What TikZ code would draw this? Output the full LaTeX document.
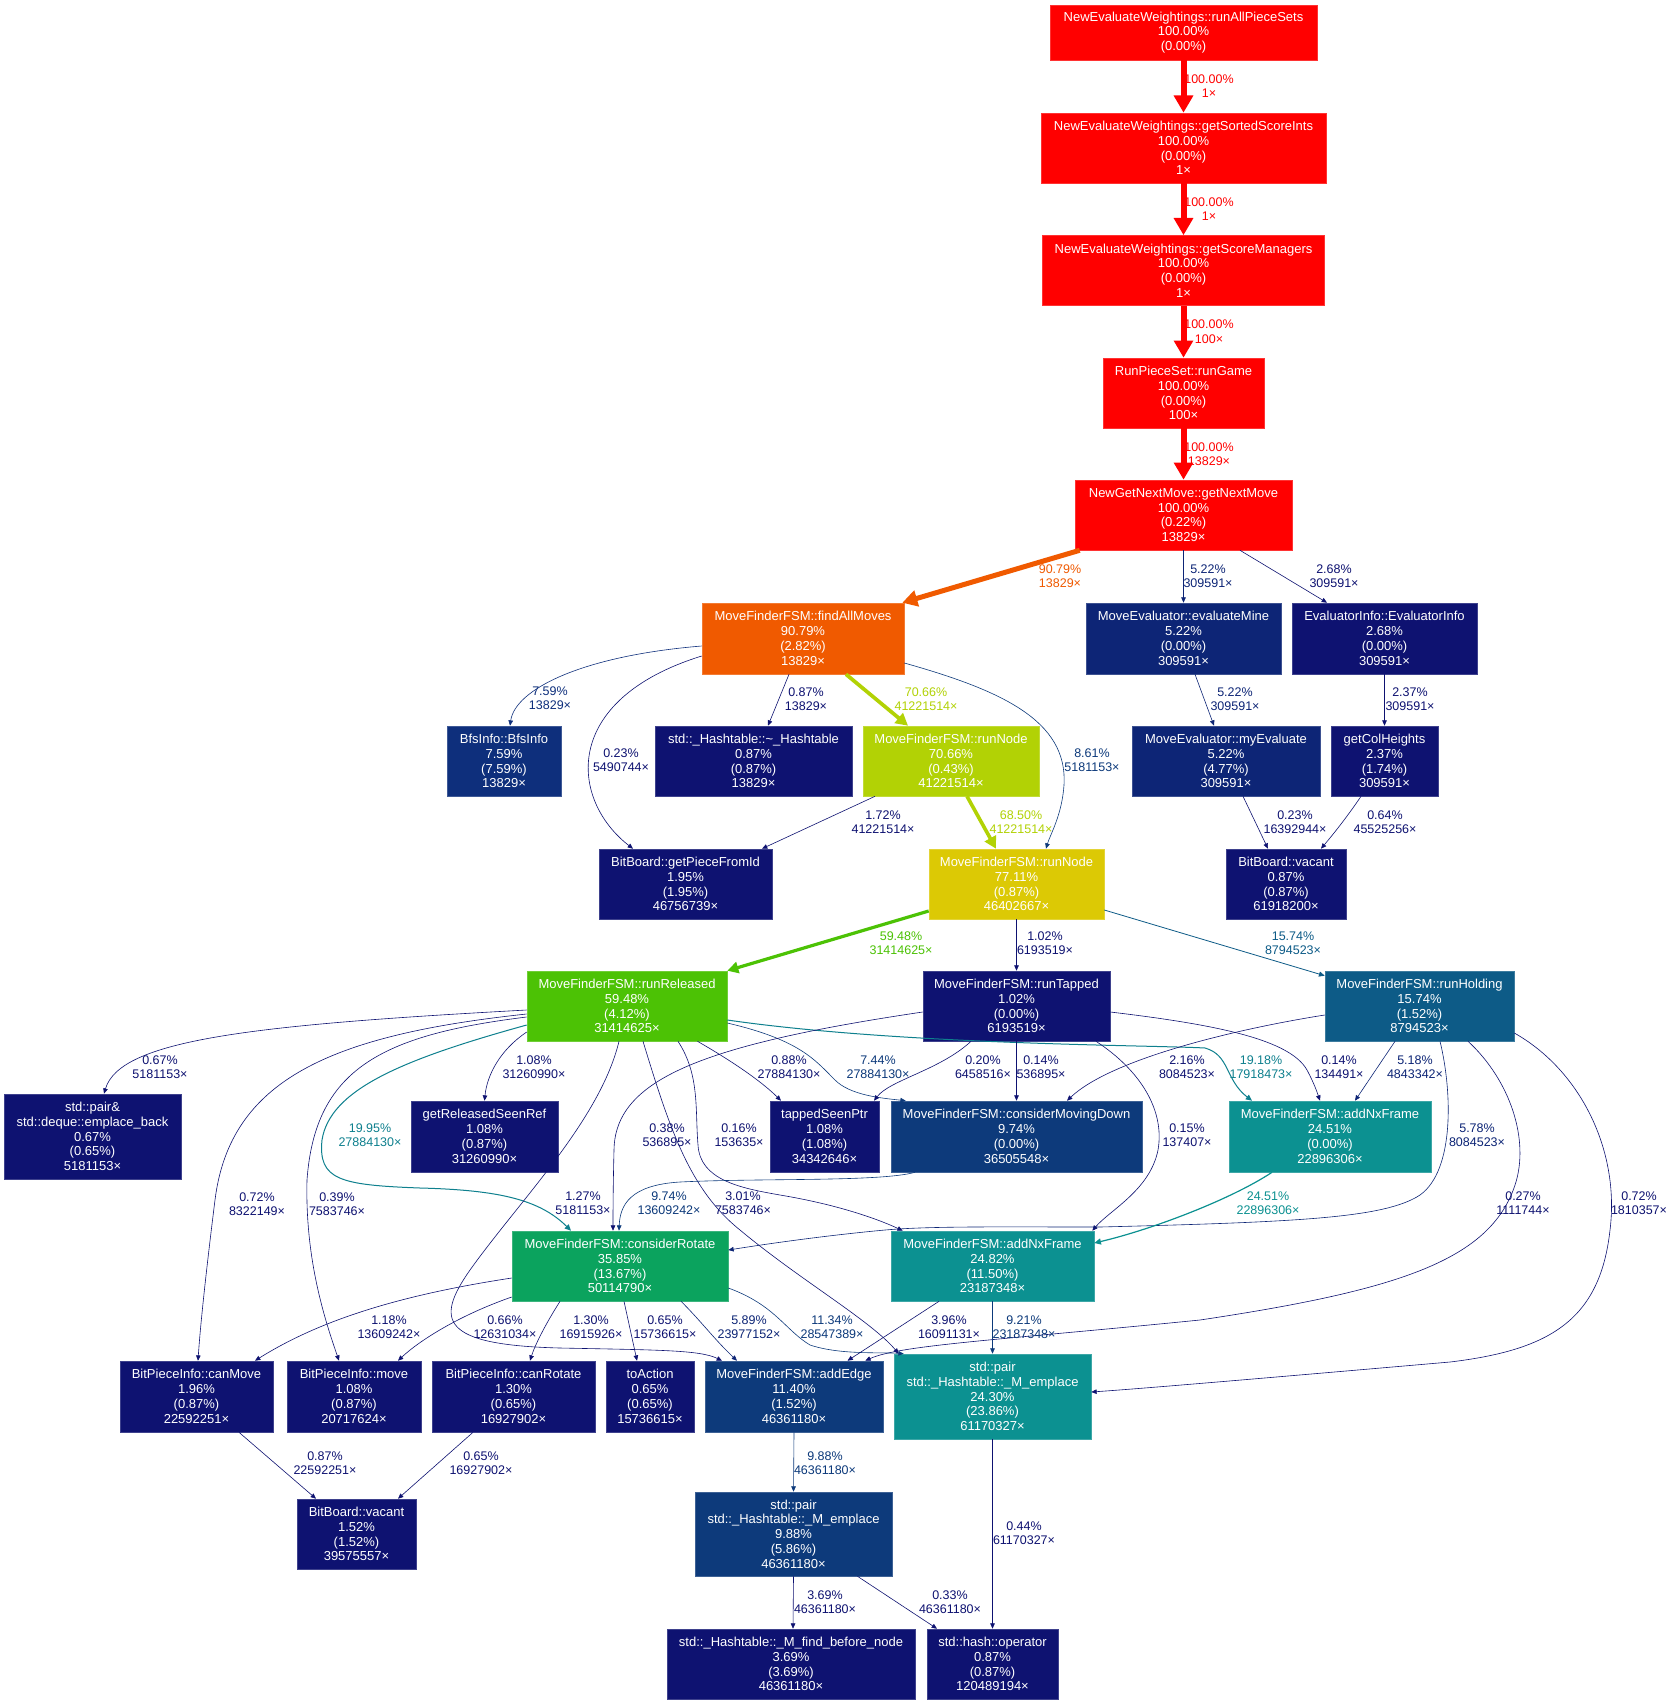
\documentclass[tikz,border=0pt]{standalone}
\usepackage{fontspec}
\setmainfont{Liberation Sans}
\usetikzlibrary{arrows.meta}

\definecolor{cRed}{RGB}{255,0,0}
\definecolor{cOrange}{RGB}{240,90,0}
\definecolor{cLime}{RGB}{178,210,5}
\definecolor{cYellow}{RGB}{220,201,5}
\definecolor{cGreen}{RGB}{76,194,5}
\definecolor{cSea}{RGB}{11,163,94}
\definecolor{cTeal}{RGB}{12,145,145}
\definecolor{cTealD}{RGB}{14,128,142}
\definecolor{cSteel}{RGB}{13,91,135}
\definecolor{cBlue}{RGB}{13,58,123}
\definecolor{cBfs}{RGB}{14,47,124}
\definecolor{cMid}{RGB}{13,37,118}
\definecolor{cNavy}{RGB}{14,18,113}

\newcommand{\callfont}{\fontsize{13}{14.8}\selectfont}
\newcommand{\pctfont}{\fontsize{12.5}{14.4}\selectfont}

\begin{document}
\begin{tikzpicture}[x=1pt, y=-1pt,
    func/.style={fill=#1, draw=#1!80!white, line width=0.6pt, text=white, align=center, inner sep=0pt, font=\callfont},
    call/.style={draw=#1, line width=0.6pt, -{Triangle[length=4pt 2.2, width=3pt 2.6]}},
    pct/.style={text=#1, align=center, inner sep=0pt, font=\pctfont}]
\fill[white] (0,0) rectangle (1674,1704);
\useasboundingbox (0,0) rectangle (1674,1704);

% top chain
\node[func=cRed, minimum width=267pt, minimum height=55pt] (run_all) at (1183.5,32.5) {NewEvaluateWeightings::runAllPieceSets\\100.00\%\\(0.00\%)};
\node[func=cRed, minimum width=285pt, minimum height=70pt] (get_sorted) at (1183.5,148) {NewEvaluateWeightings::getSortedScoreInts\\100.00\%\\(0.00\%)\\1×};
\node[func=cRed, minimum width=282pt, minimum height=70pt] (get_managers) at (1183.5,270.5) {NewEvaluateWeightings::getScoreManagers\\100.00\%\\(0.00\%)\\1×};
\node[func=cRed, minimum width=161pt, minimum height=70pt] (run_game) at (1183.5,393) {RunPieceSet::runGame\\100.00\%\\(0.00\%)\\100×};
\node[func=cRed, minimum width=217pt, minimum height=70pt] (next_move) at (1183.5,515) {NewGetNextMove::getNextMove\\100.00\%\\(0.22\%)\\13829×};

% second and third rows
\node[func=cOrange, minimum width=202pt, minimum height=71pt] (find_all) at (803,638.5) {MoveFinderFSM::findAllMoves\\90.79\%\\(2.82\%)\\13829×};
\node[func=cMid, minimum width=195pt, minimum height=71pt] (eval_mine) at (1183.5,638.5) {MoveEvaluator::evaluateMine\\5.22\%\\(0.00\%)\\309591×};
\node[func=cNavy, minimum width=185pt, minimum height=71pt] (eval_info) at (1384.5,638.5) {EvaluatorInfo::EvaluatorInfo\\2.68\%\\(0.00\%)\\309591×};
\node[func=cBfs, minimum width=114pt, minimum height=70pt] (bfs_info) at (504,761) {BfsInfo::BfsInfo\\7.59\%\\(7.59\%)\\13829×};
\node[func=cNavy, minimum width=197pt, minimum height=70pt] (hash_dtor) at (753.5,761) {std::\_Hashtable::\textasciitilde\_Hashtable\\0.87\%\\(0.87\%)\\13829×};
\node[func=cLime, minimum width=176pt, minimum height=70pt] (run_node_a) at (951,761) {MoveFinderFSM::runNode\\70.66\%\\(0.43\%)\\41221514×};
\node[func=cMid, minimum width=188pt, minimum height=70pt] (my_eval) at (1226,761) {MoveEvaluator::myEvaluate\\5.22\%\\(4.77\%)\\309591×};
\node[func=cNavy, minimum width=107pt, minimum height=70pt] (col_heights) at (1384.5,761) {getColHeights\\2.37\%\\(1.74\%)\\309591×};

% runNode level
\node[func=cNavy, minimum width=173pt, minimum height=70pt] (piece_from_id) at (685.5,884) {BitBoard::getPieceFromId\\1.95\%\\(1.95\%)\\46756739×};
\node[func=cYellow, minimum width=175pt, minimum height=70pt] (run_node_b) at (1016.5,884) {MoveFinderFSM::runNode\\77.11\%\\(0.87\%)\\46402667×};
\node[func=cNavy, minimum width=120pt, minimum height=70pt] (vacant_a) at (1286,884) {BitBoard::vacant\\0.87\%\\(0.87\%)\\61918200×};

% states
\node[func=cGreen, minimum width=200pt, minimum height=70pt] (run_released) at (627,1006) {MoveFinderFSM::runReleased\\59.48\%\\(4.12\%)\\31414625×};
\node[func=cNavy, minimum width=187pt, minimum height=70pt] (run_tapped) at (1016.5,1006) {MoveFinderFSM::runTapped\\1.02\%\\(0.00\%)\\6193519×};
\node[func=cSteel, minimum width=189pt, minimum height=70pt] (run_holding) at (1419.5,1006) {MoveFinderFSM::runHolding\\15.74\%\\(1.52\%)\\8794523×};

% helpers
\node[func=cNavy, minimum width=177pt, minimum height=85pt] (emplace_back) at (92.5,1136.5) {std::pair\&\\std::deque::emplace\_back\\0.67\%\\(0.65\%)\\5181153×};
\node[func=cNavy, minimum width=147pt, minimum height=71pt] (released_ref) at (484.5,1136.5) {getReleasedSeenRef\\1.08\%\\(0.87\%)\\31260990×};
\node[func=cNavy, minimum width=109pt, minimum height=71pt] (tapped_ptr) at (824.5,1136.5) {tappedSeenPtr\\1.08\%\\(1.08\%)\\34342646×};
\node[func=cBlue, minimum width=251pt, minimum height=71pt] (moving_down) at (1016.5,1136.5) {MoveFinderFSM::considerMovingDown\\9.74\%\\(0.00\%)\\36505548×};
\node[func=cTeal, minimum width=202pt, minimum height=71pt] (nx_frame_a) at (1330,1136.5) {MoveFinderFSM::addNxFrame\\24.51\%\\(0.00\%)\\22896306×};
\node[func=cSea, minimum width=216pt, minimum height=70pt] (consider_rot) at (620,1266) {MoveFinderFSM::considerRotate\\35.85\%\\(13.67\%)\\50114790×};
\node[func=cTeal, minimum width=203pt, minimum height=70pt] (nx_frame_b) at (992.5,1266) {MoveFinderFSM::addNxFrame\\24.82\%\\(11.50\%)\\23187348×};

% leaves
\node[func=cNavy, minimum width=153pt, minimum height=71pt] (can_move) at (196.5,1396.5) {BitPieceInfo::canMove\\1.96\%\\(0.87\%)\\22592251×};
\node[func=cNavy, minimum width=134pt, minimum height=71pt] (piece_move) at (354,1396.5) {BitPieceInfo::move\\1.08\%\\(0.87\%)\\20717624×};
\node[func=cNavy, minimum width=163pt, minimum height=71pt] (can_rotate) at (513.5,1396.5) {BitPieceInfo::canRotate\\1.30\%\\(0.65\%)\\16927902×};
\node[func=cNavy, minimum width=88pt, minimum height=71pt] (to_action) at (650,1396.5) {toAction\\0.65\%\\(0.65\%)\\15736615×};
\node[func=cBlue, minimum width=178pt, minimum height=71pt] (add_edge) at (794,1396.5) {MoveFinderFSM::addEdge\\11.40\%\\(1.52\%)\\46361180×};
\node[func=cTeal, minimum width=197pt, minimum height=85pt] (emplace_main) at (992.5,1396.5) {std::pair\\std::\_Hashtable::\_M\_emplace\\24.30\%\\(23.86\%)\\61170327×};
\node[func=cNavy, minimum width=119pt, minimum height=70pt] (vacant_b) at (356.5,1534) {BitBoard::vacant\\1.52\%\\(1.52\%)\\39575557×};
\node[func=cBlue, minimum width=197pt, minimum height=84pt] (emplace_pair) at (793.5,1534) {std::pair\\std::\_Hashtable::\_M\_emplace\\9.88\%\\(5.86\%)\\46361180×};
\node[func=cNavy, minimum width=248pt, minimum height=70pt] (find_before) at (791,1664) {std::\_Hashtable::\_M\_find\_before\_node\\3.69\%\\(3.69\%)\\46361180×};
\node[func=cNavy, minimum width=131pt, minimum height=70pt] (hash_op) at (992.5,1664) {std::hash::operator\\0.87\%\\(0.87\%)\\120489194×};

% calls from the top
\draw[call=cRed, line width=6pt] (run_all) -- (get_sorted);
\draw[call=cRed, line width=6pt] (get_sorted) -- (get_managers);
\draw[call=cRed, line width=6pt] (get_managers) -- (run_game);
\draw[call=cRed, line width=6pt] (run_game) -- (next_move);
\draw[call=cOrange, line width=5pt] ([xshift=5pt]next_move.south west) -- ([xshift=-2pt]find_all.north east);
\draw[call=cMid] (next_move.south) -- (eval_mine.north);
\draw[call=cNavy] ([xshift=56.5pt]next_move.south) -- ([xshift=-57.5pt]eval_info.north);
\draw[call=cBfs] ([yshift=-7.5pt]find_all.west) .. controls (580,656) and (515,690) .. ([xshift=6pt]bfs_info.north);
\draw[call=cNavy] ([yshift=-17.5pt]find_all.west) .. controls (560,700) and (570,800) .. ([xshift=-52.5pt]piece_from_id.north);
\draw[call=cNavy] ([xshift=-14pt]find_all.south) -- ([xshift=14.5pt]hash_dtor.north);
\draw[call=cLime, line width=3.7pt] ([xshift=43pt]find_all.south) -- ([xshift=-43pt]run_node_a.north);
\draw[call=cBlue] ([yshift=-24.5pt]find_all.east) .. controls (1000,690) and (1068,720) .. (1064,785) .. controls (1062,815) and (1050,835) .. ([xshift=29.5pt]run_node_b.north);
\draw[call=cNavy] ([xshift=-76pt]run_node_a.south) -- ([xshift=76.5pt]piece_from_id.north);
\draw[call=cLime, line width=3.6pt] ([xshift=16pt]run_node_a.south) -- ([xshift=-20.5pt]run_node_b.north);
\draw[call=cMid] ([xshift=11.5pt]eval_mine.south) -- ([xshift=-12pt]my_eval.north);
\draw[call=cNavy] (eval_info.south) -- (col_heights.north);
\draw[call=cNavy] ([xshift=17pt]my_eval.south) -- ([xshift=-18pt]vacant_a.north);
\draw[call=cNavy] ([xshift=-23.5pt]col_heights.south) .. controls (1345,820) and (1330,838) .. ([xshift=35pt]vacant_a.north);
\draw[call=cGreen, line width=3.2pt] ([yshift=-27pt]run_node_b.west) -- (run_released.north east);
\draw[call=cNavy] (run_node_b.south) -- (run_tapped.north);
\draw[call=cSteel, line width=0.8pt] ([yshift=-26pt]run_node_b.east) -- ([yshift=-5pt]run_holding.north west);

% calls from runReleased
\draw[call=cNavy] ([yshift=-4pt]run_released.west) .. controls (250,1025) and (120,1040) .. ([xshift=11.5pt]emplace_back.north);
\draw[call=cNavy] ([yshift=-8pt]run_released.west) .. controls (330,1035) and (230,1080) .. (215,1200) .. controls (205,1280) and (200,1330) .. ([xshift=1.5pt]can_move.north);
\draw[call=cNavy] ([yshift=-11pt]run_released.west) .. controls (380,1035) and (315,1070) .. (307,1180) .. controls (305,1260) and (325,1320) .. ([xshift=-15pt]piece_move.north);
\draw[call=cTealD, line width=1pt] ([yshift=-19pt]run_released.west) .. controls (400,1060) and (330,1090) .. (322,1140) .. controls (318,1180) and (340,1185) .. (420,1188) .. controls (500,1190) and (540,1200) .. ([xshift=-49pt]consider_rot.north);
\draw[call=cNavy] ([yshift=-26pt]run_released.west) .. controls (500,1050) and (487,1075) .. (released_ref.north);
\draw[call=cNavy] ([xshift=-8pt]run_released.south) .. controls (600,1120) and (520,1200) .. (470,1270) .. controls (435,1320) and (440,1345) .. (560,1348) .. controls (660,1350) and (700,1350) .. ([xshift=-72pt]add_edge.north);
\draw[call=cNavy] ([xshift=16pt]run_released.south) .. controls (670,1130) and (690,1190) .. (740,1230) .. controls (800,1280) and (870,1320) .. ([xshift=5pt]emplace_main.north west);
\draw[call=cNavy] ([xshift=51pt]run_released.south) .. controls (700,1075) and (695,1110) .. (698,1145) .. controls (700,1180) and (740,1188) .. (780,1195) .. controls (840,1205) and (880,1220) .. ([xshift=12pt]nx_frame_b.north west);
\draw[call=cNavy] ([xshift=70.5pt]run_released.south) .. controls (730,1060) and (760,1080) .. ([xshift=-43.5pt]tapped_ptr.north);
\draw[call=cBlue] ([yshift=-17pt]run_released.east) .. controls (800,1040) and (815,1060) .. (835,1080) .. controls (850,1095) and (880,1098) .. ([xshift=15pt]moving_down.north west);
\draw[call=cTealD, line width=1pt] ([yshift=-14pt]run_released.east) .. controls (900,1045) and (1150,1045) .. (1205,1048) .. controls (1230,1055) and (1225,1080) .. ([xshift=-78pt]nx_frame_a.north);

% calls from runTapped
\draw[call=cNavy] ([xshift=-45.5pt]run_tapped.south) .. controls (940,1070) and (890,1080) .. ([xshift=49.5pt]tapped_ptr.north);
\draw[call=cNavy] (run_tapped.south) -- (moving_down.north);
\draw[call=cNavy] ([yshift=-6pt]run_tapped.west) .. controls (700,1045) and (615,1080) .. (614,1150) .. controls (613,1190) and (613,1215) .. ([xshift=-7pt]consider_rot.north);
\draw[call=cNavy] ([xshift=79.5pt]run_tapped.south) .. controls (1140,1070) and (1165,1110) .. (1158,1150) .. controls (1150,1190) and (1110,1210) .. ([xshift=-2pt]nx_frame_b.north east);
\draw[call=cNavy] ([yshift=-6pt]run_tapped.east) .. controls (1220,1025) and (1290,1040) .. (1307,1070) .. controls (1315,1085) and (1318,1095) .. ([xshift=-10pt]nx_frame_a.north);

% calls from runHolding
\draw[call=cNavy] ([yshift=-9pt]run_holding.west) .. controls (1230,1030) and (1110,1060) .. ([xshift=50.5pt]moving_down.north);
\draw[call=cMid] ([xshift=-24.5pt]run_holding.south) -- ([xshift=25pt]nx_frame_a.north);
\draw[call=cMid] ([xshift=20.5pt]run_holding.south) .. controls (1452,1090) and (1455,1170) .. (1420,1195) .. controls (1385,1218) and (1300,1222) .. (1100,1227) .. controls (1000,1227) and (930,1226) .. (885,1230) .. controls (820,1236) and (760,1245) .. ([yshift=16pt]consider_rot.east);
\draw[call=cNavy] ([xshift=48.5pt]run_holding.south) .. controls (1510,1080) and (1530,1140) .. (1515,1185) .. controls (1490,1260) and (1400,1290) .. (1200,1320) .. controls (1000,1340) and (900,1345) .. ([xshift=-18pt]add_edge.north east);
\draw[call=cNavy] ([yshift=-27pt]run_holding.east) .. controls (1580,1070) and (1620,1150) .. (1610,1230) .. controls (1600,1320) and (1550,1350) .. (1450,1362) .. controls (1300,1375) and (1150,1388) .. ([yshift=4.5pt]emplace_main.east);

% lower calls
\draw[call=cBlue] ([xshift=-101.5pt]moving_down.south) .. controls (880,1182) and (760,1178) .. (680,1182) .. controls (630,1185) and (620,1205) .. ([xshift=-1pt]consider_rot.north);
\draw[call=cTeal, line width=1.2pt] ([xshift=-58pt]nx_frame_a.south) .. controls (1230,1200) and (1150,1230) .. ([yshift=23pt]nx_frame_b.east);
\draw[call=cNavy] ([yshift=-12pt]consider_rot.west) .. controls (400,1295) and (320,1320) .. ([xshift=58.5pt]can_move.north);
\draw[call=cNavy] ([yshift=-31pt]consider_rot.west) .. controls (460,1315) and (420,1340) .. ([xshift=44pt]piece_move.north);
\draw[call=cNavy] ([xshift=-60pt]consider_rot.south) .. controls (545,1325) and (535,1345) .. ([xshift=16.5pt]can_rotate.north);
\draw[call=cNavy] ([xshift=4pt]consider_rot.south) -- ([xshift=-13pt]to_action.north);
\draw[call=cMid] ([xshift=61pt]consider_rot.south) .. controls (700,1320) and (715,1340) .. ([xshift=-57pt]add_edge.north);
\draw[call=cBlue] ([yshift=-22pt]consider_rot.east) .. controls (775,1305) and (785,1330) .. (810,1345) .. controls (840,1355) and (880,1352) .. ([xshift=10pt]emplace_main.north west);
\draw[call=cNavy] ([xshift=-53.5pt]nx_frame_b.south) -- ([xshift=53.5pt]add_edge.north);
\draw[call=cBlue] (nx_frame_b.south) -- (emplace_main.north);
\draw[call=cNavy] ([xshift=42.5pt]can_move.south) -- ([xshift=-40.5pt]vacant_b.north);
\draw[call=cNavy] ([xshift=-40.5pt]can_rotate.south) -- ([xshift=41.5pt]vacant_b.north);
\draw[call=cBlue] (add_edge.south) -- (emplace_pair.north);
\draw[call=cNavy] (emplace_pair.south) -- ([xshift=2pt]find_before.north);
\draw[call=cNavy] ([xshift=64pt]emplace_pair.south) -- ([xshift=-55.5pt]hash_op.north);
\draw[call=cNavy] (emplace_main.south) -- (hash_op.north);

% edge labels
\node[pct=cRed] (pct_sorted) at (1209,86) {100.00\%\\1×};
\node[pct=cRed] (pct_managers) at (1209,209) {100.00\%\\1×};
\node[pct=cRed] (pct_game) at (1209,331.5) {100.00\%\\100×};
\node[pct=cRed] (pct_next) at (1209,454) {100.00\%\\13829×};
\node[pct=cOrange] (pct_find) at (1060,576) {90.79\%\\13829×};
\node[pct=cMid] (pct_mine) at (1208,576) {5.22\%\\309591×};
\node[pct=cNavy] (pct_info) at (1334,576) {2.68\%\\309591×};
\node[pct=cBfs] (pct_bfs) at (550,698) {7.59\%\\13829×};
\node[pct=cNavy] (pct_piece_a) at (621,760) {0.23\%\\5490744×};
\node[pct=cNavy] (pct_dtor) at (806,699) {0.87\%\\13829×};
\node[pct=cLime] (pct_node_a) at (926,699) {70.66\%\\41221514×};
\node[pct=cBlue] (pct_node_b) at (1092,760) {8.61\%\\5181153×};
\node[pct=cMid] (pct_my_eval) at (1235,699) {5.22\%\\309591×};
\node[pct=cNavy] (pct_heights) at (1410,699) {2.37\%\\309591×};
\node[pct=cNavy] (pct_piece_b) at (883,822) {1.72\%\\41221514×};
\node[pct=cLime] (pct_node_c) at (1021,822) {68.50\%\\41221514×};
\node[pct=cNavy] (pct_vacant_a) at (1295,822) {0.23\%\\16392944×};
\node[pct=cNavy] (pct_vacant_b) at (1385,822) {0.64\%\\45525256×};
\node[pct=cGreen] (pct_released) at (901,943) {59.48\%\\31414625×};
\node[pct=cNavy] (pct_tapped) at (1045,943) {1.02\%\\6193519×};
\node[pct=cSteel] (pct_holding) at (1293,943) {15.74\%\\8794523×};
\node[pct=cNavy] (pct_back) at (160,1067) {0.67\%\\5181153×};
\node[pct=cNavy] (pct_ref) at (534,1067) {1.08\%\\31260990×};
\node[pct=cNavy] (pct_ptr_a) at (789,1067) {0.88\%\\27884130×};
\node[pct=cBlue] (pct_down_a) at (878,1067) {7.44\%\\27884130×};
\node[pct=cNavy] (pct_ptr_b) at (983,1067) {0.20\%\\6458516×};
\node[pct=cNavy] (pct_down_b) at (1041,1067) {0.14\%\\536895×};
\node[pct=cNavy] (pct_down_c) at (1187,1067) {2.16\%\\8084523×};
\node[pct=cTealD] (pct_frame_a) at (1261,1067) {19.18\%\\17918473×};
\node[pct=cNavy] (pct_frame_b) at (1339,1067) {0.14\%\\134491×};
\node[pct=cMid] (pct_frame_c) at (1415,1067) {5.18\%\\4843342×};
\node[pct=cTealD] (pct_rot_a) at (370,1135) {19.95\%\\27884130×};
\node[pct=cNavy] (pct_rot_b) at (667,1135) {0.38\%\\536895×};
\node[pct=cNavy] (pct_frame_d) at (739,1135) {0.16\%\\153635×};
\node[pct=cNavy] (pct_frame_e) at (1187,1135) {0.15\%\\137407×};
\node[pct=cMid] (pct_rot_c) at (1477,1135) {5.78\%\\8084523×};
\node[pct=cNavy] (pct_move_a) at (257,1204) {0.72\%\\8322149×};
\node[pct=cNavy] (pct_move_b) at (337,1204) {0.39\%\\7583746×};
\node[pct=cNavy] (pct_edge_a) at (583,1203) {1.27\%\\5181153×};
\node[pct=cBlue] (pct_rot_d) at (669,1203) {9.74\%\\13609242×};
\node[pct=cNavy] (pct_emp_a) at (743,1203) {3.01\%\\7583746×};
\node[pct=cTeal] (pct_frame_f) at (1268,1203) {24.51\%\\22896306×};
\node[pct=cNavy] (pct_edge_b) at (1523,1203) {0.27\%\\1111744×};
\node[pct=cNavy] (pct_emp_b) at (1639,1203) {0.72\%\\1810357×};
\node[pct=cNavy] (pct_move_c) at (389,1327) {1.18\%\\13609242×};
\node[pct=cNavy] (pct_move_d) at (505,1327) {0.66\%\\12631034×};
\node[pct=cNavy] (pct_can_rot) at (591,1327) {1.30\%\\16915926×};
\node[pct=cNavy] (pct_action) at (665,1327) {0.65\%\\15736615×};
\node[pct=cMid] (pct_edge_c) at (749,1327) {5.89\%\\23977152×};
\node[pct=cBlue] (pct_emp_c) at (832,1327) {11.34\%\\28547389×};
\node[pct=cNavy] (pct_edge_d) at (949,1327) {3.96\%\\16091131×};
\node[pct=cBlue] (pct_emp_d) at (1024,1327) {9.21\%\\23187348×};
\node[pct=cNavy] (pct_vac_a) at (325,1463) {0.87\%\\22592251×};
\node[pct=cNavy] (pct_vac_b) at (481,1463) {0.65\%\\16927902×};
\node[pct=cBlue] (pct_pair) at (825,1463) {9.88\%\\46361180×};
\node[pct=cNavy] (pct_hash_a) at (1024,1533) {0.44\%\\61170327×};
\node[pct=cNavy] (pct_find_b) at (825,1602) {3.69\%\\46361180×};
\node[pct=cNavy] (pct_hash_b) at (950,1602) {0.33\%\\46361180×};
\end{tikzpicture}
\end{document}
